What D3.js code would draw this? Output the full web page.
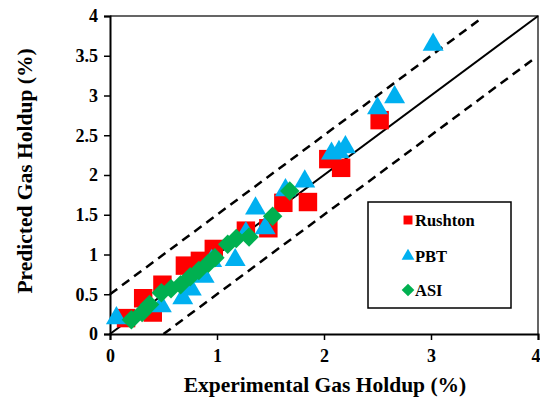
<!DOCTYPE html>
<html lang="en">
<head>
    <meta charset="UTF-8">
    <title>Gas Holdup Parity</title>
    <script type="text/javascript" src="https://cdn.jsdelivr.net/npm/d3@7"></script>
    <style type="text/css">
        body { margin: 0; background: #fff; }
        text { font-family: "Liberation Serif", "Times New Roman", serif; font-weight: bold; }
    </style>
</head>
<body>
    <script type="text/javascript">

        //Width and height
        var w = 540;
        var h = 400;
        var margin = {left: 110, right: 2, top: 16, bottom: 66};

        // data
        var rushtonX = [0.15, 0.31, 0.40, 0.49, 0.70, 0.84, 0.97, 1.27, 1.48, 1.62, 1.85, 2.04, 2.16, 2.52];
        var rushtonY = [0.20, 0.45, 0.27, 0.62, 0.86, 0.92, 1.07, 1.30, 1.33, 1.65, 1.66, 2.20, 2.09, 2.69];

        var pbtX = [0.06, 0.48, 0.68, 0.76, 0.88, 0.95, 1.17, 1.27, 1.36, 1.45, 1.64, 1.82, 2.07, 2.14, 2.20, 2.50, 2.66, 3.02];
        var pbtY = [0.20, 0.35, 0.45, 0.56, 0.72, 0.92, 0.93, 1.27, 1.58, 1.33, 1.81, 1.92, 2.27, 2.29, 2.35, 2.84, 2.98, 3.64];

        var asiX = [0.20, 0.30, 0.37, 0.48, 0.57, 0.66, 0.75, 0.83, 0.92, 0.98, 1.10, 1.18, 1.30, 1.52, 1.68];
        var asiY = [0.18, 0.27, 0.37, 0.52, 0.57, 0.62, 0.72, 0.80, 0.89, 0.96, 1.13, 1.20, 1.22, 1.48, 1.80];

        var xTicks = [0, 1, 2, 3, 4];
        var yTicks = [0, 0.5, 1, 1.5, 2, 2.5, 3, 3.5, 4];

        // parity line and +/-0.5 band
        var parityLine = [[0, 0], [4, 4]];
        var upperLine = [[0, 0.5], [3.45, 3.95]];
        var lowerLine = [[0.5, 0], [3.95, 3.45]];

        var series = [
            {name: 'Rushton', xs: rushtonX, ys: rushtonY, color: '#FF0000', shape: d3.symbolSquare, size: 340, rot: 0},
            {name: 'PBT', xs: pbtX, ys: pbtY, color: '#00B0F0', shape: d3.symbolTriangle, size: 190, rot: 0},
            {name: 'ASI', xs: asiX, ys: asiY, color: '#00B050', shape: d3.symbolSquare, size: 190, rot: 45}
        ];

        var svg = d3.select("body")
            .append("svg")
            .attr("width", w)
            .attr("height", h);

        var x = d3.scaleLinear().domain([0, 4]).range([margin.left, w - margin.right]);
        var y = d3.scaleLinear().domain([0, 4]).range([h - margin.bottom, margin.top]);

        // frame (top and right)
        svg.append("path")
            .attr("d", "M" + x(0) + "," + y(4) + "H" + x(4) + "V" + y(0))
            .attr("fill", "none")
            .attr("stroke", "#333")
            .attr("stroke-width", 1.5);

        var line = d3.line()
            .x(function(d) { return x(d[0]); })
            .y(function(d) { return y(d[1]); });

        svg.append("path")
            .attr("d", line(parityLine))
            .attr("stroke", "#000")
            .attr("stroke-width", 2)
            .attr("fill", "none");

        [upperLine, lowerLine].forEach(function(l) {
            svg.append("path")
                .attr("d", line(l))
                .attr("stroke", "#000")
                .attr("stroke-width", 2.5)
                .attr("stroke-dasharray", "9,6")
                .attr("fill", "none");
        });

        // axes
        var xAxis = svg.append("g")
            .attr("transform", "translate(0," + y(0) + ")")
            .call(d3.axisBottom(x).tickValues(xTicks).tickSize(6).tickFormat(d3.format("d")));

        var yAxis = svg.append("g")
            .attr("transform", "translate(" + x(0) + ",0)")
            .call(d3.axisLeft(y).tickValues(yTicks).tickSize(6).tickFormat(function(d) { return String(d); }));

        [xAxis, yAxis].forEach(function(a) {
            a.select(".domain").attr("stroke", "#000").attr("stroke-width", 2);
            a.selectAll(".tick line").attr("stroke", "#000").attr("stroke-width", 1.5);
            a.selectAll(".tick text")
                .attr("fill", "#000")
                .attr("font-size", "18px");
        });
        xAxis.selectAll(".tick text").attr("dy", "1.05em");
        // keep the last label inside the page
        xAxis.selectAll(".tick text")
            .filter(function(d) { return d == 4; })
            .attr("text-anchor", "end")
            .attr("x", 2);
        yAxis.selectAll(".tick text").attr("x", -12);

        // points
        series.forEach(function(s) {
            var pts = s.xs.map(function(v, i) { return [v, s.ys[i]]; });
            svg.append("g")
                .selectAll("path")
                .data(pts)
                .enter()
                .append("path")
                .attr("d", d3.symbol().type(s.shape).size(s.size))
                .attr("transform", function(d) { return "translate(" + x(d[0]) + "," + y(d[1]) + ") rotate(" + s.rot + ")"; })
                .attr("fill", s.color);
        });

        // axis titles
        svg.append("text")
            .text("Experimental Gas Holdup (%)")
            .attr("x", 325)
            .attr("y", 392)
            .attr("text-anchor", "middle")
            .attr("font-size", "21.5px");

        svg.append("text")
            .text("Predicted Gas Holdup (%)")
            .attr("transform", "translate(32,171) rotate(-90)")
            .attr("text-anchor", "middle")
            .attr("font-size", "21.5px");

        // legend
        var legend = svg.append("g");
        legend.append("rect")
            .attr("x", 368)
            .attr("y", 202)
            .attr("width", 143)
            .attr("height", 106)
            .attr("fill", "#fff")
            .attr("stroke", "#000")
            .attr("stroke-width", 1.5);

        var legendY = [220, 256, 290];
        series.forEach(function(s, i) {
            legend.append("path")
                .attr("d", d3.symbol().type(s.shape).size(s.name == 'PBT' ? 70 : 80))
                .attr("transform", "translate(408," + legendY[i] + ") rotate(" + s.rot + ")")
                .attr("fill", s.color);
            legend.append("text")
                .text(s.name)
                .attr("x", 415)
                .attr("y", legendY[i] + 6)
                .attr("font-size", "16.5px");
        });

        </script>

</body>
</html>
